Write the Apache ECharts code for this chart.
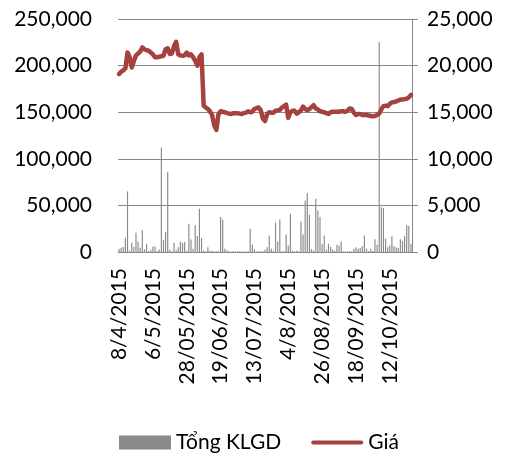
<!DOCTYPE html>
<html>
<head>
<meta charset="utf-8">
<script src="https://cdn.jsdelivr.net/npm/echarts@6/dist/echarts.min.js"></script>
<style>
  html, body { margin: 0; padding: 0; background: #fff; }
  #main { width: 513px; height: 453px; }
</style>
</head>
<body>
<div id="main"></div>
<script>
// trading days 8/4/2015 .. 26/10/2015 (weekends and market holidays skipped)
var startDay = new Date(2015, 3, 8);
var endDay = new Date(2015, 9, 26);
var holidays = ['27/4', '28/4', '30/4', '1/5', '2/9'];

// Tổng KLGD (left axis)
var volume = [
    3600, 4600, 5400, 15400, 65000, 1500, 10000, 5400, 20700, 11400,
    4600, 23600, 2800, 8900, 1000, 2500, 6000, 6000, 1200, 2800,
    112000, 13200, 21400, 86000, 2500, 800, 10000, 1800, 5000, 11400,
    10000, 10700, 1400, 30300, 13500, 3600, 28600, 17100, 46400, 15000,
    1500, 800, 5000, 1400, 1400, 800, 700, 700, 37500, 34600,
    3600, 2000, 800, 600, 700, 500, 600, 800, 500, 600,
    700, 500, 25000, 7900, 2800, 600, 500, 800, 700, 2500,
    5000, 17800, 3600, 1400, 31400, 11400, 35000, 900, 900, 18900,
    7100, 41000, 1400, 600, 1400, 700, 32800, 18900, 55300, 63200,
    40000, 3000, 1500, 57100, 44600, 37500, 8200, 17800, 2800, 8900,
    5400, 2800, 1200, 7900, 7100, 11400, 800, 600, 700, 500,
    900, 3600, 5000, 3600, 4300, 6400, 17800, 3600, 1000, 3600,
    1000, 13600, 7900, 225000, 48000, 47000, 14300, 5000, 7100, 16800,
    6100, 5000, 4300, 13600, 11800, 16800, 28600, 27800, 8900
];

// Giá (right axis)
var price = [
    19100, 19350, 19500, 19700, 21400, 20900, 19800, 20500, 21100, 21300,
    21500, 21950, 21750, 21650, 21600, 21400, 21200, 20900, 20900, 20950,
    21000, 21050, 21750, 21850, 21250, 21300, 22100, 22550, 21200, 21100,
    21050, 21100, 21400, 21100, 21200, 20900, 20500, 20000, 20900, 21200,
    15700, 15500, 15350, 15100, 14700, 13600, 13100, 14800, 15100, 15050,
    15000, 14900, 14850, 14800, 14900, 14900, 14900, 14850, 14800, 14900,
    14950, 15100, 15000, 15050, 15350, 15450, 15500, 15200, 14300, 14050,
    14800, 15000, 14950, 14950, 15150, 15200, 15250, 15500, 15650, 15800,
    14400, 15000, 15150, 15150, 14850, 15000, 15200, 15600, 15350, 15200,
    15350, 15550, 15750, 15400, 15300, 15100, 15050, 15000, 14900, 14800,
    15000, 15050, 15050, 15050, 15050, 15100, 15100, 15050, 15150, 15400,
    15350, 14950, 14700, 14800, 14800, 14700, 14700, 14700, 14650, 14600,
    14550, 14600, 14700, 14850, 15300, 15650, 15700, 15650, 15900, 16050,
    16100, 16150, 16250, 16350, 16350, 16400, 16450, 16600, 16850
];

var leftTicks = [0, 50000, 100000, 150000, 200000, 250000];
var rightTicks = [0, 5000, 10000, 15000, 20000, 25000];

function pad(n) { return n < 10 ? '0' + n : '' + n; }

// days up to 12 were stored as real dates (d/m/yyyy), the rest as text (dd/mm/yyyy)
var dates = [];
for (var d = new Date(startDay); d <= endDay; d.setDate(d.getDate() + 1)) {
    var wd = d.getDay();
    var key = d.getDate() + '/' + (d.getMonth() + 1);
    if (wd === 0 || wd === 6 || holidays.indexOf(key) >= 0) continue;
    if (d.getDate() <= 12) {
        dates.push(d.getDate() + '/' + (d.getMonth() + 1) + '/2015');
    } else {
        dates.push(pad(d.getDate()) + '/' + pad(d.getMonth() + 1) + '/2015');
    }
}

function fmt(v) {
    return v.toLocaleString('en-US');
}

var font = 'Lato';
var txt = '#000';
var red = '#A5423F';

var myChart = echarts.init(document.getElementById('main'));
var option = {
    animation: false,
    textStyle: { fontFamily: font },
    grid: {
        left: 118,
        right: 101,
        top: 19,
        bottom: 201
    },
    legend: {
        left: 114,
        top: 427,
        itemWidth: 52,
        itemHeight: 14,
        itemGap: 30,
        textStyle: { fontFamily: font, fontSize: 21, color: txt },
        data: [
            { name: 'Tổng KLGD', icon: 'rect' },
            { name: 'Giá', icon: 'path://M2,0h48a2,2 0 0 1 0,4h-48a2,2 0 0 1 0,-4z', itemStyle: { color: red } }
        ]
    },
    xAxis: {
        type: 'category',
        data: dates,
        boundaryGap: true,
        axisLine: { show: true, lineStyle: { color: '#878787', width: 1 } },
        axisTick: { show: false },
        axisLabel: {
            interval: 15,
            rotate: 90,
            margin: 16,
            fontFamily: font,
            fontSize: 21,
            color: txt
        }
    },
    yAxis: [
        {
            type: 'value',
            min: leftTicks[0],
            max: leftTicks[leftTicks.length - 1],
            interval: leftTicks[1] - leftTicks[0],
            axisLine: { show: false },
            axisTick: { show: false },
            splitLine: { show: true, lineStyle: { color: '#878787', width: 1 } },
            axisLabel: {
                margin: 26,
                fontFamily: font,
                fontSize: 21,
                color: txt,
                formatter: fmt
            }
        },
        {
            type: 'value',
            min: rightTicks[0],
            max: rightTicks[rightTicks.length - 1],
            interval: rightTicks[1] - rightTicks[0],
            position: 'right',
            axisLine: { show: true, lineStyle: { color: '#878787', width: 1 } },
            axisTick: { show: true, length: 6, lineStyle: { color: '#878787' } },
            splitLine: { show: false },
            axisLabel: {
                margin: 15,
                fontFamily: font,
                fontSize: 21,
                color: txt,
                formatter: fmt
            }
        }
    ],
    series: [
        {
            name: 'Tổng KLGD',
            type: 'bar',
            yAxisIndex: 0,
            barWidth: '55%',
            itemStyle: { color: '#8a8a8a' },
            data: volume
        },
        {
            name: 'Giá',
            type: 'line',
            yAxisIndex: 1,
            symbol: 'none',
            lineStyle: { color: red, width: 4.5, join: 'round', cap: 'round' },
            itemStyle: { color: red },
            data: price
        }
    ]
};
myChart.setOption(option);
window.onresize = myChart.resize;
</script>
</body>
</html>
